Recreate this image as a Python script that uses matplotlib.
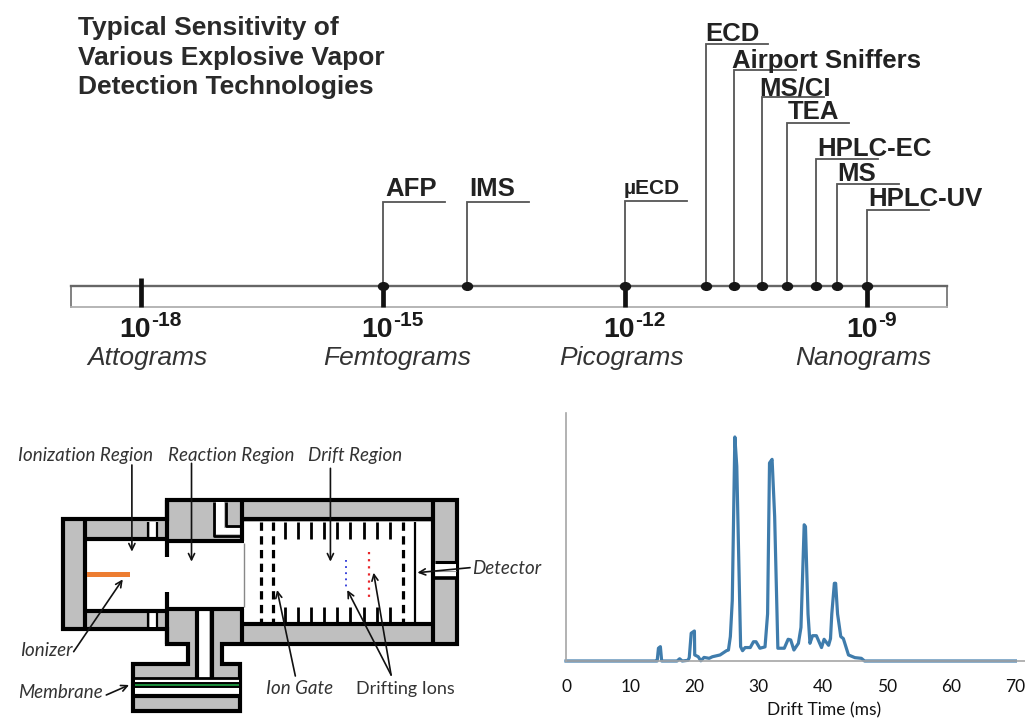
import matplotlib
matplotlib.use("Agg")
import matplotlib.pyplot as plt
from matplotlib.patches import Polygon, Rectangle
from matplotlib.path import Path
from matplotlib.transforms import Affine2D

W, H = 1025, 720
SANS = ["Liberation Sans", "DejaVu Sans"]
CAL = ["Lato", "DejaVu Sans"]

# ---- sensitivity scale data
decade_exp = [-18, -15, -12, -9]
decade_sup = ["-18", "-15", "-12", "-9"]
decade_units = ["Attograms", "Femtograms", "Picograms", "Nanograms"]
tech_names = ["AFP", "IMS", "\u00b5ECD", "ECD", "Airport Sniffers", "MS/CI", "TEA", "HPLC-EC", "MS", "HPLC-UV"]
tech_exp = [-15.0, -13.96, -12.0, -11.0, -10.65, -10.31, -9.99, -9.63, -9.38, -9.0]
title_lines = ["Typical Sensitivity of", "Various Explosive Vapor", "Detection Technologies"]

# ---- drift spectrum data
drift_ms = [0, 14.0, 14.2, 14.4, 14.7, 14.9, 17.3, 17.7, 18.1, 19.0, 19.2, 19.5, 20.0, 20.05, 20.6, 21.0, 21.5, 22.3,
            22.8, 24.0, 25.0, 25.3, 25.6, 25.9, 26.3, 26.6, 26.9, 27.2, 27.5, 27.9, 28.7, 29.2, 29.6, 30.2, 31.0,
            31.4, 31.7, 32.1, 32.5, 33.0, 34.0, 34.6, 35.0, 35.5, 36.2, 36.6, 37.1, 37.3, 37.7, 38.0, 38.4, 39.0,
            39.8, 40.2, 40.9, 41.2, 41.4, 41.8, 42.0, 42.3, 42.8, 43.2, 44.0, 45.0, 46.0, 46.5, 70]
intensity = [0, 0, 0, 5.7, 6.4, 0, 0, 1, 0, 0.3, 1.5, 12.4, 13.4, 2.7, 1.9, 0.1, 1.6, 1.2,
             1.9, 2.7, 4.6, 4.9, 10.9, 27, 100, 87, 46.6, 6.4, 4.6, 6, 6, 8.6, 8.6, 5.7, 6.3,
             21, 88.4, 90, 64.5, 5.7, 5.7, 9.7, 9.4, 4.9, 7.9, 15, 60.8, 60, 21, 7.9, 11.3, 11.3,
             6, 9.7, 7, 10, 21, 34.7, 34.7, 21, 10.9, 10, 2.7, 1.5, 1.2, 0, 0]
drift_ticks = [0, 10, 20, 30, 40, 50, 60, 70]

fig = plt.figure(figsize=(W / 100, H / 100), dpi=100, facecolor="white")


def px_axes(x0, y0, x1, y1):
    a = fig.add_axes([x0 / W, 1 - y1 / H, (x1 - x0) / W, (y1 - y0) / H])
    return a


# ---------------- timeline (x in log10 grams, y in image px)
PXD = 80.7
tl = px_axes(0, 0, W, 380)
tl.set_xlim(-18 - 141 / PXD, -18 + (W - 141) / PXD)
tl.set_ylim(380, 0)
tl.axis("off")
box_l, box_r = -18 - 70 / PXD, -18 + 806 / PXD
tl.plot([box_l, box_l, box_r, box_r], [307, 286, 286, 307], color="#777777", lw=1.3, solid_joinstyle="miter")
tl.plot([box_l, box_r], [286, 286], color="#666666", lw=1.7)
tl.plot([box_l, box_r], [307, 307], color="#b0b0b0", lw=1.3)
for i, e in enumerate(decade_exp):
    top = 278 if e == -18 else 286
    tl.plot([e, e], [top, 307], color="#111111", lw=3.4, solid_capstyle="butt")
leader_y = [202, 202, 201, 44, 70, 97, 123, 159, 184, 210]
leader_dx = 62 / PXD
for e, ly in zip(tech_exp, leader_y):
    tl.plot([e + leader_dx, e, e], [ly, ly, 286], color="#555555", lw=1.3, solid_joinstyle="miter")
oval = Path.unit_circle().transformed(Affine2D().scale(1.3, 1.0))
tl.plot(tech_exp, [286] * len(tech_exp), ls="none", marker=oval, ms=7.2, mfc="#161616", mec="#161616")

# ---------------- text overlay in image px
tx = px_axes(0, 0, W, H)
tx.set_xlim(0, W)
tx.set_ylim(H, 0)
tx.axis("off")
tx.patch.set_alpha(0)
for s, y in zip(title_lines, [28, 58, 87]):
    tx.text(78, y, s, family=SANS, weight="bold", fontsize=19, color="#2a2a2a", va="center", ha="left")
lab_x = [385, 469, 624, 705, 732, 759, 788, 817, 837, 868]
lab_y = [189, 189, 188, 34, 61, 88, 112, 149, 174, 199]
lab_fs = [18.5, 18.5, 15, 18.5, 18.5, 18.5, 18.5, 18.5, 18.5, 18.5]
for s, x, y, fs in zip(tech_names, lab_x, lab_y, lab_fs):
    tx.text(x, y, s, family=SANS, weight="bold", fontsize=fs, color="#222222", va="center", ha="left")
ten_x = [119, 361, 603, 846]
for x, sup in zip(ten_x, decade_sup):
    tx.text(x, 330, "10", family=SANS, weight="bold", fontsize=20.5, color="#1a1a1a", va="center", ha="left")
    tx.text(x + 32, 320, sup, family=SANS, weight="bold", fontsize=15, color="#1a1a1a", va="center", ha="left")
unit_x = [147, 397, 622, 863]
for x, s in zip(unit_x, decade_units):
    tx.text(x, 358, s, family=SANS, style="italic", fontsize=19, color="#333333", va="center", ha="center")

# ---------------- drift spectrum
sp = px_axes(566, 413, 1025, 661)
sp.set_xlim(0, 459 / 6.42)
sp.set_ylim(0, 110.7)
sp.patch.set_alpha(0)
sp.plot(drift_ms, intensity, color="#3f7cac", lw=2.3, solid_joinstyle="round", clip_on=False)
for side in ["top", "right"]:
    sp.spines[side].set_visible(False)
for side in ["left", "bottom"]:
    sp.spines[side].set_color("#a6a6a6")
    sp.spines[side].set_linewidth(1.2)
sp.set_yticks([])
sp.set_xticks(drift_ticks)
sp.set_xticklabels([str(t) for t in drift_ticks], family=CAL, fontsize=12.5, color="#111111")
sp.tick_params(axis="x", length=0, pad=13)
tx.text(824, 710, "Drift Time (ms)", family=CAL, fontsize=12.5, color="#111111", ha="center", va="center")

# ---------------- instrument schematic (drawn in the crop's own 1568x960 grid)
sc = px_axes(0, 400, 550, 720)
sc.set_xlim(0, 1568)
sc.set_ylim(960, 0)
sc.axis("off")
sc.patch.set_alpha(0)
GR = "#bfbfbf"
BW = 3.0
shell = [(179, 358), (476, 358), (476, 299), (1302, 299), (1302, 732), (632, 732), (632, 792), (685, 792), (685, 932),
         (379, 932), (379, 792), (535, 792), (535, 732), (476, 732), (476, 686), (179, 686)]
sc.add_patch(Polygon(shell, closed=True, fc=GR, ec="black", lw=BW, joinstyle="miter"))


def rect(x0, y0, x1, y1, fc="white", ec="none", lw=0, z=2):
    sc.add_patch(Rectangle((x0, y0), x1 - x0, y1 - y0, fc=fc, ec=ec, lw=lw, zorder=z))


def line(xs, ys, lw=BW, c="black", z=3, **k):
    sc.plot(xs, ys, color=c, lw=lw, zorder=z, solid_capstyle="butt", **k)


# chambers
rect(243, 424, 476, 632)
rect(472, 430, 695, 620)
rect(695, 365, 1232, 665)
# walls
line([243, 243], [358, 686])
line([243, 476], [418, 418])
line([243, 476], [633, 633])
line([476, 695], [424, 424])
line([476, 695], [626, 626])
line([690, 690], [299, 424])
line([690, 690], [626, 732])
line([690, 1236], [358, 358])
line([690, 1236], [672, 672])
line([1234, 1234], [299, 732])
line([476, 476], [299, 472])
line([476, 476], [576, 732])
line([695, 695], [430, 620], lw=1, c="#888888")
# side slots in the left chamber
for (y0, y1) in [(365, 412), (640, 680)]:
    rect(428, y0, 445, y1)
    line([422, 422], [y0, y1], lw=1.6)
    line([448, 448], [y0, y1], lw=1.6)
# L-shaped port
sc.add_patch(Polygon([(615, 306), (640, 306), (640, 383), (684, 383), (684, 402), (615, 402)], closed=True,
                     fc="white", ec="none", zorder=2))
line([610, 610, 684], [305, 408, 408], lw=2)
line([645, 645, 684], [305, 378, 378], lw=2)
# stem
rect(568, 620, 597, 835)
line([562, 562], [632, 835], lw=BW)
line([603, 603], [632, 835], lw=BW)
# membrane pack
rect(385, 838, 680, 885)
line([379, 685], [833, 833], lw=2)
rect(385, 850, 680, 862, fc="#1b8a3a", z=3)
line([379, 685], [862, 862], lw=1.4)
line([379, 685], [848, 848], lw=1.4)
line([379, 685], [888, 888], lw=BW)
# detector slot
rect(1240, 492, 1300, 530)
line([1240, 1302], [487, 487], lw=2.2)
line([1240, 1302], [533, 533], lw=2.6)
line([1240, 1300], [512, 512], lw=0.8, c="#999999")
# guard electrodes
elec_x = [812, 849, 886, 923, 960, 998, 1037, 1074, 1113]
for x in elec_x:
    line([x, x], [365, 418], lw=2)
    line([x, x], [622, 665], lw=2)
for x in [745, 778, 1150]:
    line([x, x], [365, 665], lw=2.3, ls=(0, (2.6, 1.7)))
line([1182, 1182], [365, 665], lw=1.6)
# ionizer and ions
rect(247, 515, 370, 532, fc="#ed7d31", z=4)
line([985, 985], [480, 566], lw=1.3, c="#2b35d8", ls=(0, (1, 2.4)))
line([1053, 1053], [457, 590], lw=1.6, c="#e8262a", ls=(0, (1, 2.2)))

# labels and arrows
labels = [("Ionization Region", 243, 165), ("Reaction Region", 659, 165), ("Drift Region", 1012, 165),
          ("Detector", 1445, 505), ("Ionizer", 132, 753), ("Membrane", 173, 877), ("Ion Gate", 855, 865)]
for s, x, y in labels:
    sc.text(x, y, s, family=CAL, style="italic", fontsize=13.5, color="#333333", ha="center", va="center")
sc.text(1157, 867, "Drifting Ions", family=CAL, fontsize=13, color="#333333", ha="center", va="center")
arrows = [((376, 195), (376, 455)), ((546, 190), (546, 485)), ((942, 205), (942, 485)), ((1340, 503), (1190, 518)),
          ((210, 755), (350, 538)), ((303, 885), (368, 855)), ((842, 828), (790, 570)), ((1115, 825), (990, 570)),
          ((1115, 825), (1065, 518))]
for a, b in arrows:
    sc.annotate("", xy=b, xytext=a, zorder=6,
                arrowprops=dict(arrowstyle="->,head_length=0.45,head_width=0.22", lw=1.2, color="#111111",
                                shrinkA=0, shrinkB=0))

fig.savefig("out.png", dpi=100)
